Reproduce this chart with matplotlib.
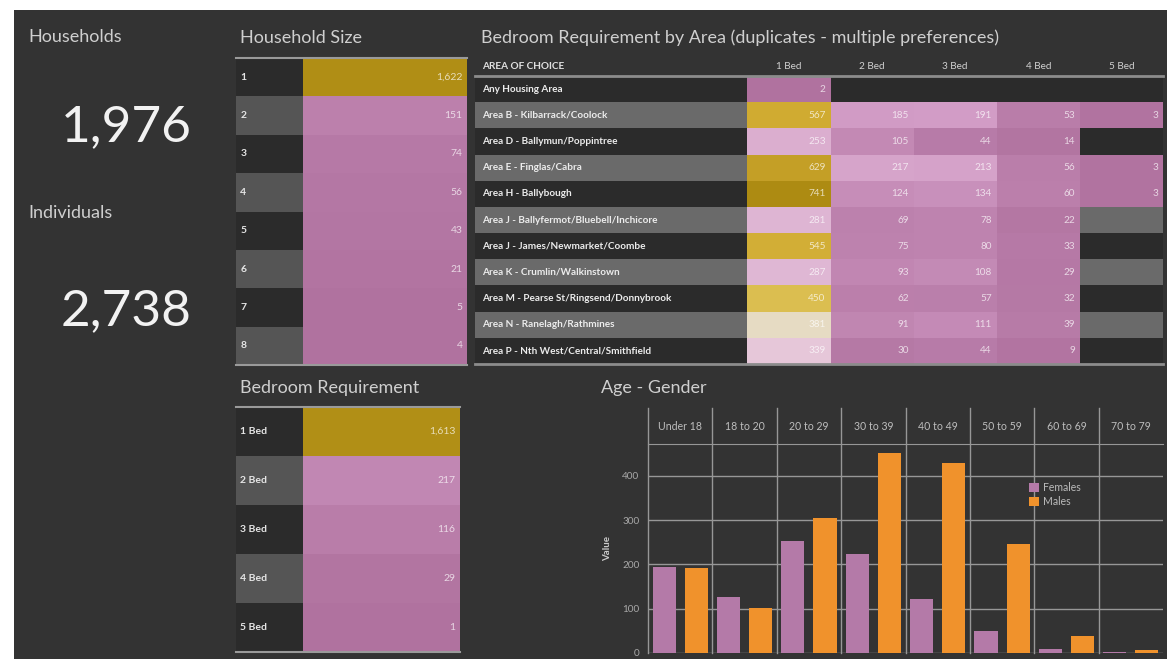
import numpy as np
import matplotlib
matplotlib.use('Agg')
import matplotlib.pyplot as plt
from matplotlib.colors import LinearSegmentedColormap, Normalize
from matplotlib.patches import Rectangle
from matplotlib.transforms import blended_transform_factory

plt.rcParams['font.family'] = ['Lato', 'DejaVu Sans']

# --- data ---
households = '1,976'
individuals = '2,738'

hh_size_labels = ['1', '2', '3', '4', '5', '6', '7', '8']
hh_size_values = [1622, 151, 74, 56, 43, 21, 5, 4]

bed_labels = ['1 Bed', '2 Bed', '3 Bed', '4 Bed', '5 Bed']
bed_values = [1613, 217, 116, 29, 1]

areas = ['Any Housing Area',
         'Area B - Kilbarrack/Coolock',
         'Area D - Ballymun/Poppintree',
         'Area E - Finglas/Cabra',
         'Area H - Ballybough',
         'Area J - Ballyfermot/Bluebell/Inchicore',
         'Area J - James/Newmarket/Coombe',
         'Area K - Crumlin/Walkinstown',
         'Area M - Pearse St/Ringsend/Donnybrook',
         'Area N - Ranelagh/Rathmines',
         'Area P - Nth West/Central/Smithfield']
area_1bed = [2, 567, 253, 629, 741, 281, 545, 287, 450, 381, 339]
area_2bed = [np.nan, 185, 105, 217, 124, 69, 75, 93, 62, 91, 30]
area_3bed = [np.nan, 191, 44, 213, 134, 78, 80, 108, 57, 111, 44]
area_4bed = [np.nan, 53, 14, 56, 60, 22, 33, 29, 32, 39, 9]
area_5bed = [np.nan, 3, np.nan, 3, 3, np.nan, np.nan, np.nan, np.nan, np.nan, np.nan]

age_groups = ['Under 18', '18 to 20', '20 to 29', '30 to 39', '40 to 49', '50 to 59', '60 to 69', '70 to 79']
females = [195, 127, 253, 223, 121, 50, 8, 2]
males = [192, 101, 305, 452, 428, 245, 38, 6]

# --- style ---
W, H = 1167, 659
BG = '#333333'
TITLE = '#cfcfcf'
cmap = LinearSegmentedColormap.from_list('pinkgold', [
    (0.0, '#b0729f'), (0.25, '#d29cc6'), (0.44, '#e6c4db'), (0.5, '#e6dcc6'),
    (0.58, '#dcc052'), (0.75, '#d0aa30'), (1.0, '#a9880f')])


def box(x0, y0, x1, y1):
    return [x0 / W, 1 - y1 / H, (x1 - x0) / W, (y1 - y0) / H]


def ftext(x, y, s, **kw):
    fig.text(x / W, 1 - y / H, s, **kw)


fig = plt.figure(figsize=(W / 100, H / 100), dpi=100, facecolor='white')
fig.patches.append(Rectangle((14 / W, 0), 1 - 14 / W, 1 - 10 / H, transform=fig.transFigure,
                             facecolor=BG, edgecolor='none', zorder=-10))

# KPI panel
ftext(28, 37, 'Households', color=TITLE, fontsize=13, va='center')
ftext(126, 127, households, color='#f2f2f2', fontsize=37, va='center', ha='center')
ftext(28, 213, 'Individuals', color=TITLE, fontsize=13, va='center')
ftext(126, 311, individuals, color='#f2f2f2', fontsize=37, va='center', ha='center')


def highlight_table(rect, labels, values, norm, label_frac):
    ax = fig.add_axes(rect)
    n = len(labels)
    rows = np.arange(n)
    stripe = ['#2b2b2b' if i % 2 == 0 else '#555555' for i in rows]
    ax.barh(rows, label_frac, left=0, height=1, color=stripe)
    ax.barh(rows, 1 - label_frac, left=label_frac, height=1, color=cmap(norm(np.array(values))))
    for i in rows:
        ax.text(0.018, i, labels[i], color='#e6e6e6', fontsize=7.5, fontweight='bold', va='center')
        ax.text(0.98, i, f'{values[i]:,}', color='white', alpha=0.7, fontsize=7.5, va='center', ha='right')
    ax.set_xlim(0, 1)
    ax.set_ylim(n - 0.5, -0.5)
    ax.axis('off')
    ax.axhline(-0.5, color='#9a9a9a', lw=1.5, clip_on=False)
    ax.axhline(n - 0.5, color='#9a9a9a', lw=1.5, clip_on=False)
    return ax


small_norm = Normalize(0, 1700)
ftext(240, 38, 'Household Size', color=TITLE, fontsize=13, va='center')
highlight_table(box(236, 58, 467, 365), hh_size_labels, hh_size_values, small_norm, 67 / 231)

ftext(240, 388, 'Bedroom Requirement', color=TITLE, fontsize=13, va='center')
highlight_table(box(236, 407, 460, 652), bed_labels, bed_values, small_norm, 67 / 224)

# Area table
ftext(481, 38, 'Bedroom Requirement by Area (duplicates - multiple preferences)', color=TITLE,
      fontsize=13, va='center')
ax = fig.add_axes(box(475, 76, 1163, 364))
area_cols = [area_1bed, area_2bed, area_3bed, area_4bed, area_5bed]
label_w = 272 / 83
rows = np.arange(len(areas))
stripe = ['#2b2b2b' if i % 2 == 0 else '#6a6a6a' for i in rows]
ax.barh(rows, label_w + 5, left=-label_w, height=1, color=stripe)
area_norm = Normalize(0, 760)
for j, col in enumerate(area_cols):
    vals = np.array(col, dtype=float)
    m = ~np.isnan(vals)
    ax.barh(rows[m], 1, left=j, height=1, color=cmap(area_norm(vals[m])))
    for i in rows[m]:
        ax.text(j + 0.94, i, f'{int(vals[i])}', color='white', alpha=0.7, fontsize=7.2, va='center', ha='right')
    ax.text(j + 0.5, -0.85, bed_labels[j], color='#d0d0d0', fontsize=7.2, va='center', ha='center')
for i in rows:
    ax.text(-label_w + 0.08, i, areas[i], color='#ececec', fontsize=7.2, fontweight='bold', va='center')
ax.text(-label_w + 0.08, -0.85, 'AREA OF CHOICE', color='#e0e0e0', fontsize=7.2, fontweight='bold', va='center')
ax.set_xlim(-label_w, 5)
ax.set_ylim(len(areas) - 0.5, -0.5)
ax.axis('off')
ax.axhline(-0.5, color='#8c8c8c', lw=2, clip_on=False)
ax.axhline(len(areas) - 0.5, color='#8c8c8c', lw=2, clip_on=False)

# Age - Gender
ftext(601, 388, 'Age - Gender', color=TITLE, fontsize=13, va='center')
ax = fig.add_axes(box(648, 444, 1163, 653))
ax.set_facecolor('none')
x = np.arange(len(age_groups))
ax.bar(x + 0.25, females, 0.36, color='#b47aa8', label='Females', zorder=3)
ax.bar(x + 0.75, males, 0.36, color='#f0922c', label='Males', zorder=3)
ax.set_xlim(0, len(age_groups))
ax.set_ylim(0, 209 / 0.443)
ax.set_yticks([0, 100, 200, 300, 400])
ax.set_xticks([])
ax.yaxis.grid(True, color='#979797', lw=1)
ax.set_axisbelow(True)
ax.tick_params(axis='y', length=0, labelsize=7.2, labelcolor='#a8a8a8', pad=6)
for s in ['left', 'right', 'bottom']:
    ax.spines[s].set_visible(False)
ax.spines['top'].set_color('#979797')
ax.set_ylabel('Value', color='#cccccc', fontsize=7, fontweight='bold')
ax.yaxis.set_label_coords((612 - 648) / 515, 0.5)
tr = blended_transform_factory(ax.transData, ax.transAxes)
for i, g in enumerate(age_groups):
    ax.axvline(i, ymin=0, ymax=1 + 36 / 209, color='#979797', lw=1, clip_on=False)
    ax.text(i + 0.5, 1 + 17 / 209, g, transform=tr, color='#bdbdbd', fontsize=7.6, ha='center', va='center')
ax.legend(loc='upper left', bbox_to_anchor=(1025 / W, 1 - 478 / H), bbox_transform=fig.transFigure,
          frameon=False, fontsize=7.6, labelcolor='#bbbbbb', handlelength=0.9, handleheight=0.9,
          handletextpad=0.4, labelspacing=0.3, borderaxespad=0)

fig.savefig('out.png', dpi=100, facecolor='white')
